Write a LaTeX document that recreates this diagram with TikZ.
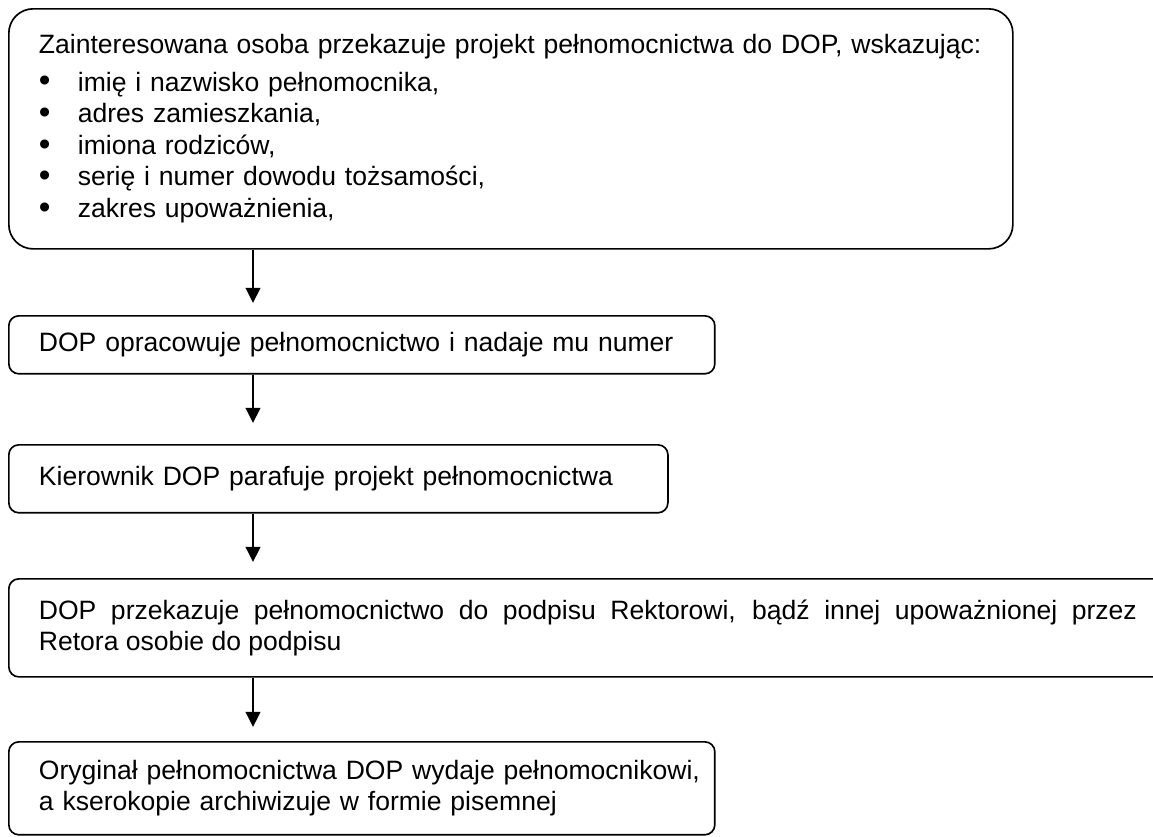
\documentclass[tikz,border=0pt]{standalone}
\usepackage{fontspec}
\setmainfont{Liberation Sans}
\usetikzlibrary{arrows.meta}
\hyphenpenalty=10000
\hfuzz=20pt
\newcommand{\punkt}[1]{\makebox[17.6pt][l]{\raisebox{-0.4pt}{\fontsize{15}{14}\selectfont\textbullet}}#1}

\begin{document}
\begin{tikzpicture}[x=0.452pt,y=-0.452pt,font=\fontsize{12}{13.8}\selectfont,
    krok/.style={draw,line width=0.75pt,rounded corners=4.5pt,anchor=north west,inner xsep=13.6pt,inner ysep=0pt,align=left},
    strz/.style={line width=0.75pt,-{Triangle[width=6.6pt,length=6.8pt]}}]
\useasboundingbox (0,0) rectangle (1153,836);
\node[krok,rounded corners=11pt,text width=426.6pt,minimum height=108.5pt] (zgl) at (8,8) {Zainteresowana osoba przekazuje projekt pełnomocnictwa do DOP, wskazując:\\[3pt] \punkt{imię i nazwisko pełnomocnika,}\\[0.5pt] \punkt{adres zamieszkania,}\\[0.5pt] \punkt{imiona rodziców,}\\[0.5pt] \punkt{serię i numer dowodu tożsamości,}\\[0.5pt] \punkt{zakres upoważnienia,}};
\node[krok,text width=291.9pt,minimum height=26.2pt] (opr) at (8,315) {DOP opracowuje pełnomocnictwo i nadaje mu numer};
\node[krok,text width=270.7pt,minimum height=30.7pt] (par) at (8,444) {Kierownik DOP parafuje projekt pełnomocnictwa};
\node[krok,align=justify,text width=496.3pt,minimum height=44.3pt] (pod) at (8,578) {DOP przekazuje pełnomocnictwo do podpisu Rektorowi, bądź innej upoważnionej przez\linebreak Retora osobie do podpisu};
\node[krok,text width=291.9pt,minimum height=42pt] (ory) at (8,741) {\mbox{Oryginał pełnomocnictwa DOP wydaje pełnomocnikowi,}\\ a kserokopie archiwizuje w formie pisemnej};
\coordinate (g1) at (253,303);
\coordinate (g2) at (253,423);
\coordinate (g3) at (253,562);
\coordinate (g4) at (253,727);
\draw[strz] (zgl.south -| g1) -- (g1);
\draw[strz] (opr.south -| g2) -- (g2);
\draw[strz] (par.south -| g3) -- (g3);
\draw[strz] (pod.south -| g4) -- (g4);
\end{tikzpicture}
\end{document}
